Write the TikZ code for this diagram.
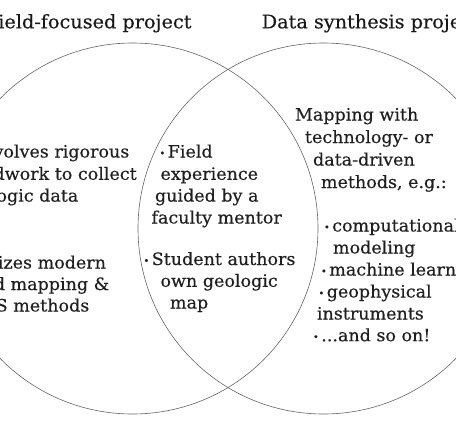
\documentclass[tikz,border=0pt]{standalone}
\usepackage{fontspec}
\setmainfont{DejaVu Serif}[FakeStretch=1.03,FakeBold=0.3]
\newcommand{\blt}{\raisebox{1pt}{\fontsize{9.5}{9.5}\selectfont •}\hspace{2.5pt}}
\begin{document}
\begin{tikzpicture}[x=1pt,y=-1pt,
  txt/.style={inner sep=0pt,outer sep=0pt,font=\fontsize{17}{22}\selectfont,text=black!88},
  ttl/.style={inner sep=0pt,outer sep=0pt,font=\fontsize{18.7}{22}\selectfont,text=black!90},
  ring/.style={draw=black!60,line width=0.6pt}]
\useasboundingbox (0,0) rectangle (456,426);
\clip (0,0) rectangle (456,426);
\fill[white] (0,0) rectangle (456,426);
% circles
\draw[ring] (132.5,228.5) circle[radius=185.5];
\draw[ring] (323.5,228.5) circle[radius=185.5];
% titles
\node[ttl,anchor=base east] (t1) at (191.5,28.3) {Field-focused project};
\node[ttl,anchor=base west] (t2) at (261.7,28.3) {Data synthesis project};
% left region
\node[txt,anchor=base east] (l1) at (129.3,157.5) {\blt Involves rigorous};
\node[txt,anchor=base east] (l2) at (136.7,179.8) {fieldwork to collect};
\node[txt,anchor=base east] (l3) at (78.3,201.6) {geologic data};
\node[txt,anchor=base east] (l4) at (106,268.5) {\blt Utilizes modern};
\node[txt,anchor=base east] (l5) at (109.3,290) {field mapping \&};
\node[txt,anchor=base east] (l6) at (89.3,311.5) {GIS methods};
% middle region
\node[txt,anchor=base west] (m1) at (159.5,157.5) {\blt Field};
\node[txt,anchor=base west] (m2) at (160.5,179.8) {experience};
\node[txt,anchor=base west] (m3) at (155,201.6) {guided by a};
\node[txt,anchor=base west] (m4) at (151.5,223.5) {faculty mentor};
\node[txt,anchor=base west] (m5) at (143.5,265) {\blt Student authors};
\node[txt,anchor=base west] (m6) at (160.5,286.8) {own geologic};
\node[txt,anchor=base west] (m7) at (170,308.5) {map};
% right region
\node[txt,anchor=base west] (r1) at (295,120.5) {Mapping with};
\node[txt,anchor=base west] (r2) at (305,143) {technology- or};
\node[txt,anchor=base west] (r3) at (313,165.5) {data-driven};
\node[txt,anchor=base west] (r4) at (321,188) {methods, e.g.:};
\node[txt,anchor=base west] (r5) at (324,231.5) {\blt computational};
\node[txt,anchor=base west] (r6) at (333,253.5) {modeling};
\node[txt,anchor=base west] (r7) at (321,275.5) {\blt machine learning};
\node[txt,anchor=base west] (r8) at (318.5,297.5) {\blt geophysical};
\node[txt,anchor=base west] (r9) at (317,319.5) {instruments};
\node[txt,anchor=base west] (r10) at (313,341.2) {\blt ...and so on!};
\end{tikzpicture}
\end{document}
